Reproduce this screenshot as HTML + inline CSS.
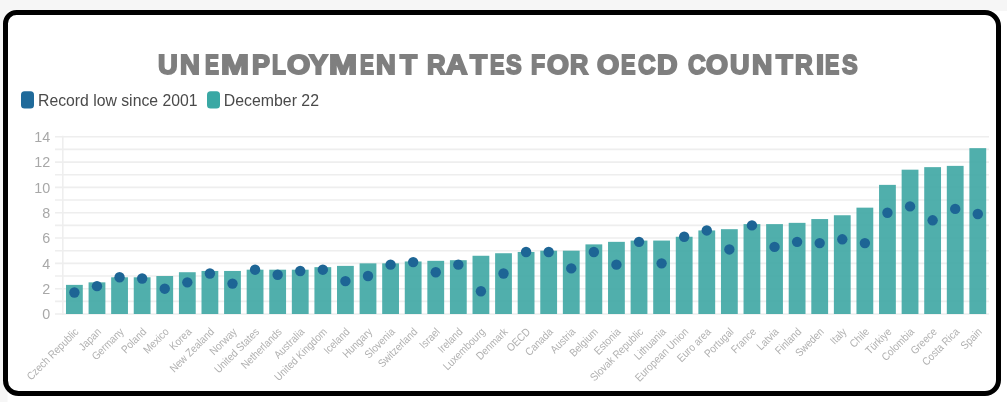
<!DOCTYPE html><html><head><meta charset="utf-8"><title>Unemployment rates for OECD countries</title>
<style>html,body{margin:0;padding:0;background:#fff;}body{width:1007px;height:402px;overflow:hidden;position:relative;font-family:"Liberation Sans",sans-serif;}svg{position:absolute;left:0;top:0;display:block;will-change:transform}text{font-family:"Liberation Sans",sans-serif;}h1{position:absolute;z-index:2;left:0;margin:0;padding:0;width:1007px;white-space:nowrap;font-weight:bold;font-size:0;line-height:0;will-change:transform}h1 span{display:inline-block;font-size:27.2px;line-height:1;transform-origin:0 0;vertical-align:baseline}</style></head><body>
<h1 id="title" style="top:51.0px;-webkit-text-stroke:1.9px #7f7f7f;color:#7f7f7f"><span style="margin-left:158.11px;width:21.91px;transform:scaleX(1.0028)">U</span><span style="width:24.51px;transform:scaleX(1.0117)">N</span><span style="width:16.70px;transform:scaleX(0.7692)">E</span><span style="width:30.41px;transform:scaleX(1.2333)">M</span><span style="width:20.04px;transform:scaleX(0.9888)">P</span><span style="width:15.14px;transform:scaleX(0.8324)">L</span><span style="width:22.19px;transform:scaleX(1.1010)">O</span><span style="width:20.22px;transform:scaleX(1.0398)">Y</span><span style="width:30.41px;transform:scaleX(1.2381)">M</span><span style="width:16.89px;transform:scaleX(0.7692)">E</span><span style="width:23.34px;transform:scaleX(1.0061)">N</span><span style="width:27.52px;transform:scaleX(1.0269)">T</span> <span style="width:18.82px;transform:scaleX(0.9444)">R</span><span style="width:23.97px;transform:scaleX(1.0919)">A</span><span style="width:19.55px;transform:scaleX(1.0325)">T</span><span style="width:16.53px;transform:scaleX(0.7925)">E</span><span style="width:24.82px;transform:scaleX(0.8628)">S</span> <span style="width:15.66px;transform:scaleX(0.8472)">F</span><span style="width:23.36px;transform:scaleX(1.0385)">O</span><span style="width:27.43px;transform:scaleX(0.9287)">R</span> <span style="width:24.08px;transform:scaleX(1.0529)">O</span><span style="width:16.05px;transform:scaleX(0.7984)">E</span><span style="width:19.64px;transform:scaleX(0.8941)">C</span><span style="width:30.36px;transform:scaleX(1.0441)">D</span> <span style="width:18.58px;transform:scaleX(0.8992)">C</span><span style="width:23.99px;transform:scaleX(1.0433)">O</span><span style="width:21.98px;transform:scaleX(0.9918)">U</span><span style="width:23.95px;transform:scaleX(1.0341)">N</span><span style="width:19.46px;transform:scaleX(1.0102)">T</span><span style="width:20.26px;transform:scaleX(0.9027)">R</span><span style="width:9.64px;transform:scaleX(1.0657)">I</span><span style="width:16.83px;transform:scaleX(0.7867)">E</span><span style="width:30.00px;transform:scaleX(0.8628)">S</span></h1>
<svg width="1007" height="402" viewBox="0 0 1007 402">
<rect x="0" y="0" width="1007" height="402" fill="#ffffff"/>
<rect x="0" y="0" width="1007" height="11" fill="#f6f6f6"/>
<rect x="0" y="0" width="7.5" height="402" fill="#f6f6f6"/>
<path d="M16.5,12.5 H985.0 A13.5,13.5 0 0 1 998.5,26.0 V380.0 A13.5,13.5 0 0 1 985.0,393.5 H18.5 A13,13 0 0 1 5.5,380.5 V23.5 A11,11 0 0 1 16.5,12.5 Z" fill="#ffffff" stroke="#000" stroke-width="5"/>
<rect x="21" y="91.2" width="13" height="17.4" rx="3.5" fill="#1f6a9a"/>
<text x="38.0" y="106.2" font-size="15.8" fill="#4a4a4a" textLength="159.5" lengthAdjust="spacingAndGlyphs">Record low since 2001</text>
<rect x="207" y="91.2" width="13" height="17.4" rx="3.5" fill="#3aa8a4"/>
<text x="223.8" y="106.2" font-size="15.8" fill="#4a4a4a" textLength="95.2" lengthAdjust="spacingAndGlyphs">December 22</text>
<line x1="55.0" x2="989.0" y1="314.00" y2="314.00" stroke="#eeeeee" stroke-width="1.6"/>
<line x1="55.0" x2="989.0" y1="301.34" y2="301.34" stroke="#eeeeee" stroke-width="1.6"/>
<line x1="55.0" x2="989.0" y1="288.68" y2="288.68" stroke="#eeeeee" stroke-width="1.6"/>
<line x1="55.0" x2="989.0" y1="276.02" y2="276.02" stroke="#eeeeee" stroke-width="1.6"/>
<line x1="55.0" x2="989.0" y1="263.36" y2="263.36" stroke="#eeeeee" stroke-width="1.6"/>
<line x1="55.0" x2="989.0" y1="250.70" y2="250.70" stroke="#eeeeee" stroke-width="1.6"/>
<line x1="55.0" x2="989.0" y1="238.04" y2="238.04" stroke="#eeeeee" stroke-width="1.6"/>
<line x1="55.0" x2="989.0" y1="225.38" y2="225.38" stroke="#eeeeee" stroke-width="1.6"/>
<line x1="55.0" x2="989.0" y1="212.72" y2="212.72" stroke="#eeeeee" stroke-width="1.6"/>
<line x1="55.0" x2="989.0" y1="200.06" y2="200.06" stroke="#eeeeee" stroke-width="1.6"/>
<line x1="55.0" x2="989.0" y1="187.40" y2="187.40" stroke="#eeeeee" stroke-width="1.6"/>
<line x1="55.0" x2="989.0" y1="174.74" y2="174.74" stroke="#eeeeee" stroke-width="1.6"/>
<line x1="55.0" x2="989.0" y1="162.08" y2="162.08" stroke="#eeeeee" stroke-width="1.6"/>
<line x1="55.0" x2="989.0" y1="149.42" y2="149.42" stroke="#eeeeee" stroke-width="1.6"/>
<line x1="55.0" x2="989.0" y1="136.76" y2="136.76" stroke="#eeeeee" stroke-width="1.6"/>
<line x1="62.8" x2="62.8" y1="135.86" y2="314.90" stroke="#eeeeee" stroke-width="1.6"/>
<text transform="translate(50.3,319.40) scale(0.97,1)" text-anchor="end" font-size="14.8" fill="#a8a8a8">0</text>
<text transform="translate(50.3,294.08) scale(0.97,1)" text-anchor="end" font-size="14.8" fill="#a8a8a8">2</text>
<text transform="translate(50.3,268.76) scale(0.97,1)" text-anchor="end" font-size="14.8" fill="#a8a8a8">4</text>
<text transform="translate(50.3,243.44) scale(0.97,1)" text-anchor="end" font-size="14.8" fill="#a8a8a8">6</text>
<text transform="translate(50.3,218.12) scale(0.97,1)" text-anchor="end" font-size="14.8" fill="#a8a8a8">8</text>
<text transform="translate(50.3,192.80) scale(0.97,1)" text-anchor="end" font-size="14.8" fill="#a8a8a8">10</text>
<text transform="translate(50.3,167.48) scale(0.97,1)" text-anchor="end" font-size="14.8" fill="#a8a8a8">12</text>
<text transform="translate(50.3,142.16) scale(0.97,1)" text-anchor="end" font-size="14.8" fill="#a8a8a8">14</text>
<rect x="65.99" y="284.88" width="16.8" height="29.12" fill="#3da6a3" fill-opacity="0.9"/>
<rect x="88.58" y="282.35" width="16.8" height="31.65" fill="#3da6a3" fill-opacity="0.9"/>
<rect x="111.16" y="277.29" width="16.8" height="36.71" fill="#3da6a3" fill-opacity="0.9"/>
<rect x="133.75" y="277.29" width="16.8" height="36.71" fill="#3da6a3" fill-opacity="0.9"/>
<rect x="156.33" y="276.02" width="16.8" height="37.98" fill="#3da6a3" fill-opacity="0.9"/>
<rect x="178.92" y="272.22" width="16.8" height="41.78" fill="#3da6a3" fill-opacity="0.9"/>
<rect x="201.50" y="270.96" width="16.8" height="43.04" fill="#3da6a3" fill-opacity="0.9"/>
<rect x="224.09" y="270.96" width="16.8" height="43.04" fill="#3da6a3" fill-opacity="0.9"/>
<rect x="246.67" y="269.69" width="16.8" height="44.31" fill="#3da6a3" fill-opacity="0.9"/>
<rect x="269.26" y="269.69" width="16.8" height="44.31" fill="#3da6a3" fill-opacity="0.9"/>
<rect x="291.84" y="269.69" width="16.8" height="44.31" fill="#3da6a3" fill-opacity="0.9"/>
<rect x="314.43" y="267.16" width="16.8" height="46.84" fill="#3da6a3" fill-opacity="0.9"/>
<rect x="337.01" y="265.89" width="16.8" height="48.11" fill="#3da6a3" fill-opacity="0.9"/>
<rect x="359.60" y="263.36" width="16.8" height="50.64" fill="#3da6a3" fill-opacity="0.9"/>
<rect x="382.18" y="263.36" width="16.8" height="50.64" fill="#3da6a3" fill-opacity="0.9"/>
<rect x="404.77" y="261.46" width="16.8" height="52.54" fill="#3da6a3" fill-opacity="0.9"/>
<rect x="427.35" y="260.83" width="16.8" height="53.17" fill="#3da6a3" fill-opacity="0.9"/>
<rect x="449.94" y="260.19" width="16.8" height="53.80" fill="#3da6a3" fill-opacity="0.9"/>
<rect x="472.52" y="255.76" width="16.8" height="58.24" fill="#3da6a3" fill-opacity="0.9"/>
<rect x="495.11" y="253.23" width="16.8" height="60.77" fill="#3da6a3" fill-opacity="0.9"/>
<rect x="517.69" y="251.97" width="16.8" height="62.03" fill="#3da6a3" fill-opacity="0.9"/>
<rect x="540.28" y="250.70" width="16.8" height="63.30" fill="#3da6a3" fill-opacity="0.9"/>
<rect x="562.86" y="250.70" width="16.8" height="63.30" fill="#3da6a3" fill-opacity="0.9"/>
<rect x="585.45" y="244.37" width="16.8" height="69.63" fill="#3da6a3" fill-opacity="0.9"/>
<rect x="608.03" y="241.84" width="16.8" height="72.16" fill="#3da6a3" fill-opacity="0.9"/>
<rect x="630.62" y="240.57" width="16.8" height="73.43" fill="#3da6a3" fill-opacity="0.9"/>
<rect x="653.20" y="240.57" width="16.8" height="73.43" fill="#3da6a3" fill-opacity="0.9"/>
<rect x="675.79" y="236.77" width="16.8" height="77.23" fill="#3da6a3" fill-opacity="0.9"/>
<rect x="698.37" y="230.44" width="16.8" height="83.56" fill="#3da6a3" fill-opacity="0.9"/>
<rect x="720.96" y="229.18" width="16.8" height="84.82" fill="#3da6a3" fill-opacity="0.9"/>
<rect x="743.54" y="224.11" width="16.8" height="89.89" fill="#3da6a3" fill-opacity="0.9"/>
<rect x="766.13" y="224.11" width="16.8" height="89.89" fill="#3da6a3" fill-opacity="0.9"/>
<rect x="788.71" y="222.85" width="16.8" height="91.15" fill="#3da6a3" fill-opacity="0.9"/>
<rect x="811.30" y="219.05" width="16.8" height="94.95" fill="#3da6a3" fill-opacity="0.9"/>
<rect x="833.88" y="215.25" width="16.8" height="98.75" fill="#3da6a3" fill-opacity="0.9"/>
<rect x="856.47" y="207.66" width="16.8" height="106.34" fill="#3da6a3" fill-opacity="0.9"/>
<rect x="879.05" y="184.87" width="16.8" height="129.13" fill="#3da6a3" fill-opacity="0.9"/>
<rect x="901.64" y="169.68" width="16.8" height="144.32" fill="#3da6a3" fill-opacity="0.9"/>
<rect x="924.22" y="167.14" width="16.8" height="146.86" fill="#3da6a3" fill-opacity="0.9"/>
<rect x="946.81" y="165.88" width="16.8" height="148.12" fill="#3da6a3" fill-opacity="0.9"/>
<rect x="969.39" y="148.15" width="16.8" height="165.85" fill="#3da6a3" fill-opacity="0.9"/>
<circle cx="74.39" cy="292.48" r="5.2" fill="#1d6595"/>
<circle cx="96.98" cy="286.15" r="5.2" fill="#1d6595"/>
<circle cx="119.56" cy="277.29" r="5.2" fill="#1d6595"/>
<circle cx="142.15" cy="278.55" r="5.2" fill="#1d6595"/>
<circle cx="164.73" cy="288.68" r="5.2" fill="#1d6595"/>
<circle cx="187.32" cy="282.35" r="5.2" fill="#1d6595"/>
<circle cx="209.90" cy="273.49" r="5.2" fill="#1d6595"/>
<circle cx="232.49" cy="283.62" r="5.2" fill="#1d6595"/>
<circle cx="255.07" cy="269.69" r="5.2" fill="#1d6595"/>
<circle cx="277.66" cy="274.75" r="5.2" fill="#1d6595"/>
<circle cx="300.24" cy="270.96" r="5.2" fill="#1d6595"/>
<circle cx="322.83" cy="269.69" r="5.2" fill="#1d6595"/>
<circle cx="345.41" cy="281.08" r="5.2" fill="#1d6595"/>
<circle cx="368.00" cy="276.02" r="5.2" fill="#1d6595"/>
<circle cx="390.58" cy="264.63" r="5.2" fill="#1d6595"/>
<circle cx="413.17" cy="262.09" r="5.2" fill="#1d6595"/>
<circle cx="435.75" cy="272.22" r="5.2" fill="#1d6595"/>
<circle cx="458.34" cy="264.63" r="5.2" fill="#1d6595"/>
<circle cx="480.92" cy="291.21" r="5.2" fill="#1d6595"/>
<circle cx="503.51" cy="273.49" r="5.2" fill="#1d6595"/>
<circle cx="526.09" cy="251.97" r="5.2" fill="#1d6595"/>
<circle cx="548.68" cy="251.97" r="5.2" fill="#1d6595"/>
<circle cx="571.26" cy="268.42" r="5.2" fill="#1d6595"/>
<circle cx="593.85" cy="251.97" r="5.2" fill="#1d6595"/>
<circle cx="616.43" cy="264.63" r="5.2" fill="#1d6595"/>
<circle cx="639.02" cy="241.84" r="5.2" fill="#1d6595"/>
<circle cx="661.60" cy="263.36" r="5.2" fill="#1d6595"/>
<circle cx="684.19" cy="236.77" r="5.2" fill="#1d6595"/>
<circle cx="706.77" cy="230.44" r="5.2" fill="#1d6595"/>
<circle cx="729.36" cy="249.43" r="5.2" fill="#1d6595"/>
<circle cx="751.94" cy="225.38" r="5.2" fill="#1d6595"/>
<circle cx="774.53" cy="246.90" r="5.2" fill="#1d6595"/>
<circle cx="797.11" cy="241.84" r="5.2" fill="#1d6595"/>
<circle cx="819.70" cy="243.10" r="5.2" fill="#1d6595"/>
<circle cx="842.28" cy="239.31" r="5.2" fill="#1d6595"/>
<circle cx="864.87" cy="243.10" r="5.2" fill="#1d6595"/>
<circle cx="887.45" cy="212.72" r="5.2" fill="#1d6595"/>
<circle cx="910.04" cy="206.39" r="5.2" fill="#1d6595"/>
<circle cx="932.62" cy="220.32" r="5.2" fill="#1d6595"/>
<circle cx="955.21" cy="208.92" r="5.2" fill="#1d6595"/>
<circle cx="977.79" cy="213.99" r="5.2" fill="#1d6595"/>
<text transform="translate(79.29,332.50) rotate(-45) scale(0.885,1)" text-anchor="end" font-size="11.0" fill="#b0b0b0">Czech Republic</text>
<text transform="translate(101.88,332.50) rotate(-45) scale(0.885,1)" text-anchor="end" font-size="11.0" fill="#b0b0b0">Japan</text>
<text transform="translate(124.46,332.50) rotate(-45) scale(0.885,1)" text-anchor="end" font-size="11.0" fill="#b0b0b0">Germany</text>
<text transform="translate(147.05,332.50) rotate(-45) scale(0.885,1)" text-anchor="end" font-size="11.0" fill="#b0b0b0">Poland</text>
<text transform="translate(169.63,332.50) rotate(-45) scale(0.885,1)" text-anchor="end" font-size="11.0" fill="#b0b0b0">Mexico</text>
<text transform="translate(192.22,332.50) rotate(-45) scale(0.885,1)" text-anchor="end" font-size="11.0" fill="#b0b0b0">Korea</text>
<text transform="translate(214.80,332.50) rotate(-45) scale(0.885,1)" text-anchor="end" font-size="11.0" fill="#b0b0b0">New Zealand</text>
<text transform="translate(237.39,332.50) rotate(-45) scale(0.885,1)" text-anchor="end" font-size="11.0" fill="#b0b0b0">Norway</text>
<text transform="translate(259.97,332.50) rotate(-45) scale(0.885,1)" text-anchor="end" font-size="11.0" fill="#b0b0b0">United States</text>
<text transform="translate(282.56,332.50) rotate(-45) scale(0.885,1)" text-anchor="end" font-size="11.0" fill="#b0b0b0">Netherlands</text>
<text transform="translate(305.14,332.50) rotate(-45) scale(0.885,1)" text-anchor="end" font-size="11.0" fill="#b0b0b0">Australia</text>
<text transform="translate(327.73,332.50) rotate(-45) scale(0.885,1)" text-anchor="end" font-size="11.0" fill="#b0b0b0">United Kingdom</text>
<text transform="translate(350.31,332.50) rotate(-45) scale(0.885,1)" text-anchor="end" font-size="11.0" fill="#b0b0b0">Iceland</text>
<text transform="translate(372.90,332.50) rotate(-45) scale(0.885,1)" text-anchor="end" font-size="11.0" fill="#b0b0b0">Hungary</text>
<text transform="translate(395.48,332.50) rotate(-45) scale(0.885,1)" text-anchor="end" font-size="11.0" fill="#b0b0b0">Slovenia</text>
<text transform="translate(418.07,332.50) rotate(-45) scale(0.885,1)" text-anchor="end" font-size="11.0" fill="#b0b0b0">Switzerland</text>
<text transform="translate(440.65,332.50) rotate(-45) scale(0.885,1)" text-anchor="end" font-size="11.0" fill="#b0b0b0">Israel</text>
<text transform="translate(463.24,332.50) rotate(-45) scale(0.885,1)" text-anchor="end" font-size="11.0" fill="#b0b0b0">Ireland</text>
<text transform="translate(485.82,332.50) rotate(-45) scale(0.885,1)" text-anchor="end" font-size="11.0" fill="#b0b0b0">Luxembourg</text>
<text transform="translate(508.41,332.50) rotate(-45) scale(0.885,1)" text-anchor="end" font-size="11.0" fill="#b0b0b0">Denmark</text>
<text transform="translate(530.99,332.50) rotate(-45) scale(0.885,1)" text-anchor="end" font-size="11.0" fill="#b0b0b0">OECD</text>
<text transform="translate(553.58,332.50) rotate(-45) scale(0.885,1)" text-anchor="end" font-size="11.0" fill="#b0b0b0">Canada</text>
<text transform="translate(576.16,332.50) rotate(-45) scale(0.885,1)" text-anchor="end" font-size="11.0" fill="#b0b0b0">Austria</text>
<text transform="translate(598.75,332.50) rotate(-45) scale(0.885,1)" text-anchor="end" font-size="11.0" fill="#b0b0b0">Belgium</text>
<text transform="translate(621.33,332.50) rotate(-45) scale(0.885,1)" text-anchor="end" font-size="11.0" fill="#b0b0b0">Estonia</text>
<text transform="translate(643.92,332.50) rotate(-45) scale(0.885,1)" text-anchor="end" font-size="11.0" fill="#b0b0b0">Slovak Republic</text>
<text transform="translate(666.50,332.50) rotate(-45) scale(0.885,1)" text-anchor="end" font-size="11.0" fill="#b0b0b0">Lithuania</text>
<text transform="translate(689.09,332.50) rotate(-45) scale(0.885,1)" text-anchor="end" font-size="11.0" fill="#b0b0b0">European Union</text>
<text transform="translate(711.67,332.50) rotate(-45) scale(0.885,1)" text-anchor="end" font-size="11.0" fill="#b0b0b0">Euro area</text>
<text transform="translate(734.26,332.50) rotate(-45) scale(0.885,1)" text-anchor="end" font-size="11.0" fill="#b0b0b0">Portugal</text>
<text transform="translate(756.84,332.50) rotate(-45) scale(0.885,1)" text-anchor="end" font-size="11.0" fill="#b0b0b0">France</text>
<text transform="translate(779.43,332.50) rotate(-45) scale(0.885,1)" text-anchor="end" font-size="11.0" fill="#b0b0b0">Latvia</text>
<text transform="translate(802.01,332.50) rotate(-45) scale(0.885,1)" text-anchor="end" font-size="11.0" fill="#b0b0b0">Finland</text>
<text transform="translate(824.60,332.50) rotate(-45) scale(0.885,1)" text-anchor="end" font-size="11.0" fill="#b0b0b0">Sweden</text>
<text transform="translate(847.18,332.50) rotate(-45) scale(0.885,1)" text-anchor="end" font-size="11.0" fill="#b0b0b0">Italy</text>
<text transform="translate(869.77,332.50) rotate(-45) scale(0.885,1)" text-anchor="end" font-size="11.0" fill="#b0b0b0">Chile</text>
<text transform="translate(892.35,332.50) rotate(-45) scale(0.885,1)" text-anchor="end" font-size="11.0" fill="#b0b0b0">Türkiye</text>
<text transform="translate(914.94,332.50) rotate(-45) scale(0.885,1)" text-anchor="end" font-size="11.0" fill="#b0b0b0">Colombia</text>
<text transform="translate(937.52,332.50) rotate(-45) scale(0.885,1)" text-anchor="end" font-size="11.0" fill="#b0b0b0">Greece</text>
<text transform="translate(960.11,332.50) rotate(-45) scale(0.885,1)" text-anchor="end" font-size="11.0" fill="#b0b0b0">Costa Rica</text>
<text transform="translate(982.69,332.50) rotate(-45) scale(0.885,1)" text-anchor="end" font-size="11.0" fill="#b0b0b0">Spain</text>
</svg>
</body></html>
